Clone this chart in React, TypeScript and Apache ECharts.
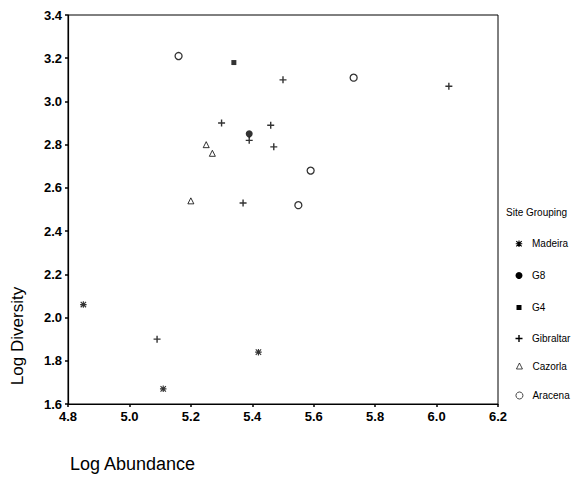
import React, { useEffect, useRef } from "react";
import * as echarts from "echarts";

const groupNames = ["Madeira", "G8", "G4", "Gibraltar", "Cazorla", "Aracena"];
const madeira = [[4.85, 2.06], [5.42, 1.84], [5.11, 1.67]];
const g8 = [[5.39, 2.85]];
const g4 = [[5.34, 3.18]];
const gibraltar = [[5.50, 3.10], [6.04, 3.07], [5.30, 2.90], [5.46, 2.89], [5.39, 2.82], [5.47, 2.79], [5.37, 2.53], [5.09, 1.90]];
const cazorla = [[5.25, 2.80], [5.27, 2.76], [5.20, 2.54]];
const aracena = [[5.16, 3.21], [5.73, 3.11], [5.59, 2.68], [5.55, 2.52]];
const seriesData = [madeira, g8, g4, gibraltar, cazorla, aracena];

const FONT = "'Liberation Sans', Arial, sans-serif";
const ASTERISK = "path://M3.3,0h1.4v8h-1.4z M0,3.3h8v1.4h-8z M1.2,0.2 L7.8,6.8 L6.8,7.8 L0.2,1.2z M6.8,0.2 L7.8,1.2 L1.2,7.8 L0.2,6.8z";
const PLUS = "path://M2.4,0h1.2v6h-1.2z M0,2.4h6v1.2h-6z";

const styles = [
  { symbol: ASTERISK, size: 6.5, itemStyle: { color: "#000" } },
  { symbol: "circle", size: 7, itemStyle: { color: "#000" } },
  { symbol: "rect", size: 5, itemStyle: { color: "#000" } },
  { symbol: PLUS, size: 7, itemStyle: { color: "#000" } },
  { symbol: "triangle", size: 6, itemStyle: { color: "#fff", borderColor: "#000", borderWidth: 1 } },
  { symbol: "circle", size: 7, itemStyle: { color: "#fff", borderColor: "#000", borderWidth: 1.3 } },
];
const legendY = [242, 274, 305, 337, 364, 394];

export default function App() {
  const ref = useRef<HTMLDivElement>(null);
  useEffect(() => {
    if (!ref.current) return;
    const chart = echarts.init(ref.current, null, { renderer: "svg" });
    const option: any = {
      animation: false,
      backgroundColor: "#fff",
      grid: { left: 68, right: 78, top: 15, bottom: 73, show: true, borderColor: "#000", borderWidth: 1 },
      xAxis: {
        type: "value", min: 4.8, max: 6.2, interval: 0.2,
        axisLine: { lineStyle: { color: "#000", width: 1.2 } },
        axisTick: { show: true, length: 3, lineStyle: { color: "#000", width: 1.5 } },
        splitLine: { show: false },
        axisLabel: { color: "#000", fontFamily: FONT, fontSize: 13, fontWeight: "bold", margin: 6, formatter: (v: number) => v.toFixed(1) },
      },
      yAxis: {
        type: "value", min: 1.6, max: 3.4, interval: 0.2,
        axisLine: { lineStyle: { color: "#000", width: 1.2 } },
        axisTick: { show: true, length: 3, lineStyle: { color: "#000", width: 1.5 } },
        splitLine: { show: false },
        axisLabel: { color: "#000", fontFamily: FONT, fontSize: 13, fontWeight: "bold", margin: 6, formatter: (v: number) => v.toFixed(1) },
      },
      legend: groupNames.map((n, i) => ({
        data: [n],
        orient: "vertical",
        left: 519 - styles[i].size / 2,
        top: legendY[i] - styles[i].size / 2,
        padding: 0,
        itemWidth: styles[i].size,
        itemHeight: styles[i].size,
        selectedMode: false,
        itemStyle: i >= 4 ? { borderWidth: 0.9, borderColor: "#000" } : undefined,
        textStyle: { color: "#000", fontFamily: FONT, fontSize: 10, padding: [0, 0, 0, 8 - styles[i].size / 2] },
      })),
      graphic: [
        { type: "text", left: 506, top: 207, style: { text: "Site Grouping", fill: "#000", font: `10px ${FONT}` } },
        { type: "text", x: 17, y: 336, rotation: Math.PI / 2, style: { text: "Log Diversity", fill: "#000", font: `17px ${FONT}`, align: "center", verticalAlign: "middle" } },
        { type: "text", x: 70, y: 464, style: { text: "Log Abundance", fill: "#000", font: `18px ${FONT}`, align: "left", verticalAlign: "middle" } },
      ],
      series: groupNames.map((n, i) => ({
        type: "scatter",
        name: n,
        data: seriesData[i],
        symbol: styles[i].symbol,
        symbolSize: styles[i].size,
        itemStyle: styles[i].itemStyle,
      })),
    };
    chart.setOption(option);
    return () => chart.dispose();
  }, []);
  return <div ref={ref} style={{ position: "fixed", left: 0, top: 0, width: 576, height: 477 }} />;
}
